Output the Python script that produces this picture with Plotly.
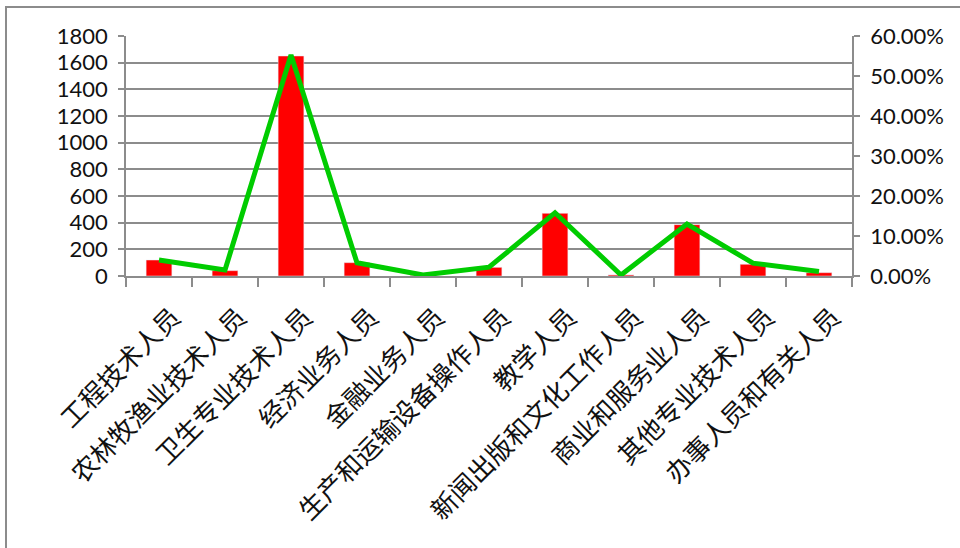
import plotly.graph_objects as go

categories = ["工程技术人员", "农林牧渔业技术人员", "卫生专业技术人员", "经济业务人员",
              "金融业务人员", "生产和运输设备操作人员", "教学人员", "新闻出版和文化工作人员",
              "商业和服务业人员", "其他专业技术人员", "办事人员和有关人员"]
counts = [120, 40, 1650, 100, 5, 65, 470, 8, 385, 88, 25]
shares = [0.040, 0.015, 0.5525, 0.033, 0.0025, 0.022, 0.158, 0.0025, 0.130, 0.032, 0.011]

left_ticks = list(range(0, 1801, 200))
right_ticks = [i / 10 for i in range(0, 7)]

W, H = 960, 548
L, T = 126, 36
R = W - 852
B = H - 276
pw, ph = W - L - R, H - T - B

def px2paper(x, y):
    return (x - L) / pw, (H - B - y) / ph

fig = go.Figure()
fig.add_trace(go.Bar(x=categories, y=counts, marker_color="#ff0000", width=0.39,
                     yaxis="y", showlegend=False))
fig.add_trace(go.Scatter(x=categories, y=shares, mode="lines",
                         line=dict(color="#00cc00", width=5), yaxis="y2", showlegend=False))

grid = "#8c8c8c"
numfont = dict(family="Lato", size=22, color="#111111")
fig.update_layout(
    width=W, height=H,
    margin=dict(l=L, r=R, t=T, b=B, autoexpand=False),
    paper_bgcolor="white", plot_bgcolor="white",
    xaxis=dict(type="category", tickson="boundaries", ticks="outside", ticklen=9,
               tickcolor=grid, tickwidth=1.5, showgrid=False, showline=True,
               linecolor=grid, linewidth=1.5, tickangle=-45,
               tickfont=dict(family="Noto Sans CJK SC", size=26, color="#111111"),
               ticklabelstandoff=14, ticklabelshift=14, range=[-0.5, 10.5]),
    yaxis=dict(range=[0, 1800], tickvals=left_ticks, ticks="outside", ticklen=6,
               tickcolor=grid, tickwidth=1.5, showgrid=True, gridcolor=grid, gridwidth=1.5,
               showline=True, linecolor=grid, linewidth=1.5, zeroline=False,
               tickfont=numfont, ticklabelstandoff=6),
    yaxis2=dict(range=[0, 0.6], tickvals=right_ticks, tickformat=".2%", overlaying="y",
                side="right", ticks="outside", ticklen=6, tickcolor=grid, tickwidth=1.5,
                showgrid=False, showline=True, linecolor=grid, linewidth=1.5,
                zeroline=False, tickfont=numfont, ticklabelstandoff=6),
)

x0, y0 = px2paper(6, 7)
x1, y1 = px2paper(975, 570)
fig.add_shape(type="rect", xref="paper", yref="paper", x0=x0, y0=y1, x1=x1, y1=y0,
              line=dict(color="#8c8c8c", width=2), fillcolor="rgba(0,0,0,0)", layer="below")

fig.write_html("out.html", config={"displayModeBar": False},
               post_script="document.body.style.margin='0';document.documentElement.style.overflow='hidden';")
